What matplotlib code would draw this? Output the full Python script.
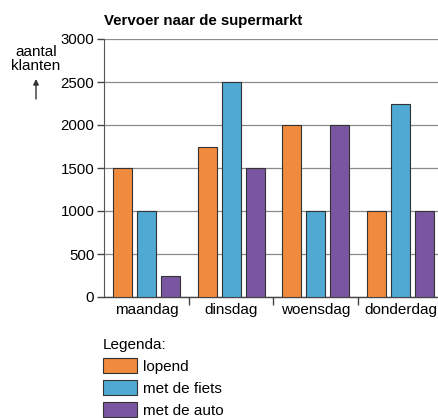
import matplotlib
matplotlib.use("Agg")
import matplotlib.pyplot as plt
import numpy as np
from matplotlib.patches import Patch

days = ["maandag", "dinsdag", "woensdag", "donderdag"]
series_names = ["lopend", "met de fiets", "met de auto"]
lopend = [1500, 1750, 2000, 1000]
fiets = [1000, 2500, 1000, 2250]
auto = [250, 1500, 2000, 1000]
yticks = [0, 500, 1000, 1500, 2000, 2500, 3000]

colors = ["#F08A3C", "#4FA9D2", "#7A55A2"]
edge = "#333333"

plt.rcParams['font.family'] = ['Liberation Sans', 'DejaVu Sans']

fig = plt.figure(figsize=(4.39, 4.18), dpi=100)
ax = fig.add_axes([104/439, 1-297/418, (443-104)/439, (297-39)/418])

x = np.arange(len(days))
w = 0.224
off = 0.282
for i, vals in enumerate([lopend, fiets, auto]):
    ax.bar(x + (i-1)*off, vals, width=w, color=colors[i], edgecolor=edge, linewidth=0.8, zorder=3)

ax.set_xlim(-0.5, 3.5)
ax.set_ylim(0, 3000)
ax.set_yticks(yticks)
ax.set_yticklabels([str(v) for v in yticks], fontsize=10.8)
ax.yaxis.grid(True, color="#8a8a8a", linewidth=0.9, zorder=0)
ax.set_xticks(x)
ax.set_xticklabels(days, fontsize=11)
ax.tick_params(axis='x', length=0, pad=4)
ax.set_xticks([0.5, 1.5, 2.5], minor=True)
ax.tick_params(axis='x', which='minor', length=6, width=1, color="#444444")
ax.tick_params(axis='y', length=5, width=1, color="#444444", pad=2)
for s in ["top", "right"]:
    ax.spines[s].set_visible(False)
ax.spines["left"].set_color("#555555")
ax.spines["bottom"].set_color("#444444")
ax.spines["bottom"].set_linewidth(1.0)

fig.text(104/439, 1-21/418, "Vervoer naar de supermarkt", fontsize=10.8, fontweight="bold", va="center", ha="left")
fig.text(36/439, 1-59/418, "aantal\nklanten", fontsize=11, ha="center", va="center", linespacing=1.05)
ax.annotate("", xy=(36/439, 1-79/418), xytext=(36/439, 1-99/418), xycoords="figure fraction",
            arrowprops=dict(arrowstyle="-|>", color="#333333", lw=1, mutation_scale=8,
                            shrinkA=0, shrinkB=0))

handles = [Patch(facecolor=c, edgecolor=edge, linewidth=0.8) for c in colors]
leg = fig.legend(handles, series_names, loc="upper left", bbox_to_anchor=(97/439, 1-332/418),
                 frameon=False, fontsize=11, title="Legenda:", title_fontsize=11,
                 handlelength=2.25, handleheight=1.15, labelspacing=0.4, handletextpad=0.35,
                 alignment="left", borderaxespad=0)

fig.savefig("out.png", dpi=100)
